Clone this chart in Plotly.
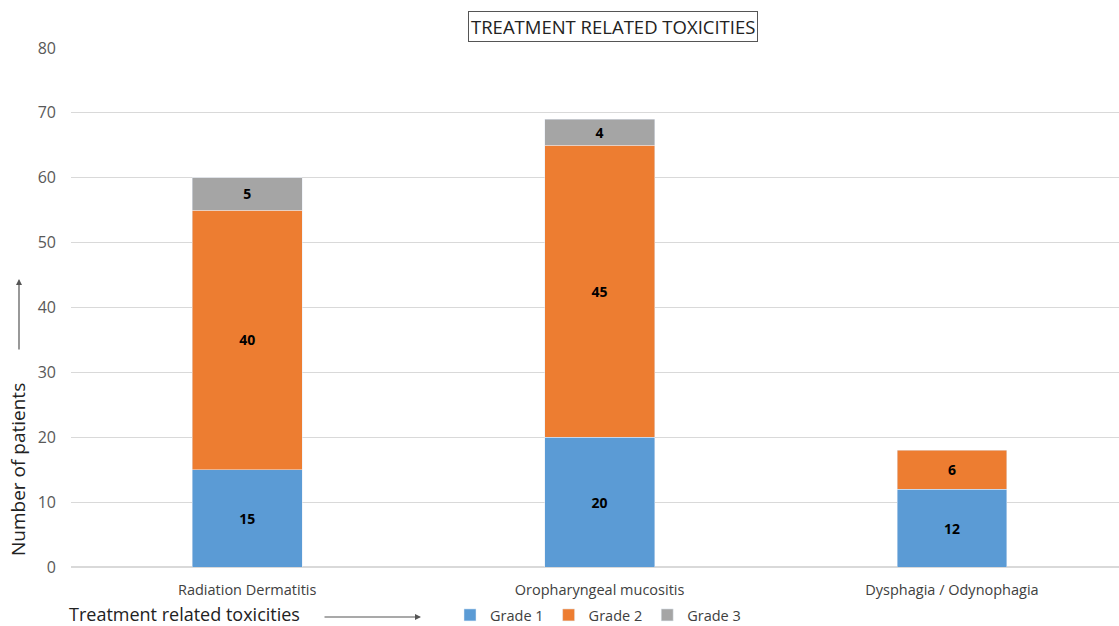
import plotly.graph_objects as go

categories = ["Radiation Dermatitis", "Oropharyngeal mucositis", "Dysphagia / Odynophagia"]
grade1 = [15, 20, 12]
grade2 = [40, 45, 6]
grade3 = [5, 4, None]
series_names = ["Grade 1", "Grade 2", "Grade 3"]
colors = ["#5B9BD5", "#ED7D31", "#A5A5A5"]

W, H = 1119, 626
ml, mr, mt, mb = 71, 0, 48, 59
pw, ph = W - ml - mr, H - mt - mb

def px_to_paper_x(px):
    return (px - ml) / pw

def px_to_paper_y(py):
    return (H - mb - py) / ph

fig = go.Figure()
for name, vals, col in zip(series_names, [grade1, grade2, grade3], colors):
    fig.add_trace(go.Bar(
        x=categories, y=vals, name=name, marker_color=col, width=0.312,
        text=[str(v) if v is not None else "" for v in vals],
        textposition="inside", insidetextanchor="middle",
        textfont=dict(family="Open Sans", size=14, color="black", weight="bold"),
        constraintext="none",
    ))

fig.update_layout(
    barmode="stack",
    width=W, height=H,
    margin=dict(l=ml, r=mr, t=mt, b=mb, autoexpand=False),
    plot_bgcolor="white", paper_bgcolor="white",
    font=dict(family="Open Sans", color="#404040"),
    showlegend=True,
    legend=dict(orientation="h", x=px_to_paper_x(598), xanchor="center", y=px_to_paper_y(615), yanchor="middle",
                font=dict(size=14.5, color="#404040"), traceorder="normal", itemwidth=30,
                tracegroupgap=0),
    xaxis=dict(range=[-0.5, 2.474], showgrid=False, showline=False, ticks="",
               tickfont=dict(size=14.5, color="#404040"), ticklabelstandoff=12),
    yaxis=dict(range=[0, 80], dtick=10, showgrid=True, gridcolor="#D9D9D9", gridwidth=1,
               zeroline=True, zerolinecolor="#D9D9D9", showline=False,
               tickfont=dict(size=16, color="#595959"), ticklabelstandoff=14),
    bargap=0.5,
)

# Title box
fig.add_annotation(
    text="TREATMENT RELATED TOXICITIES", xref="paper", yref="paper",
    x=px_to_paper_x(613), y=px_to_paper_y(26), xanchor="center", yanchor="middle",
    showarrow=False, font=dict(size=18.5, color="#222222"),
    bordercolor="#555555", borderwidth=1, borderpad=2, bgcolor="white",
)

# Y axis title
fig.add_annotation(
    text="Number of patients", xref="paper", yref="paper",
    x=px_to_paper_x(18), y=px_to_paper_y(470), xanchor="center", yanchor="middle",
    showarrow=False, textangle=-90, font=dict(size=19, color="#222222"),
)
# Y axis arrow
fig.add_annotation(
    text="", xref="paper", yref="paper",
    x=px_to_paper_x(19), y=px_to_paper_y(279), ax=0, ay=72,
    showarrow=True, arrowhead=2, arrowsize=1, arrowwidth=1.2, arrowcolor="#555555",
)

# X axis title
fig.add_annotation(
    text="Treatment related toxicities", xref="paper", yref="paper",
    x=px_to_paper_x(68), y=px_to_paper_y(614), xanchor="left", yanchor="middle",
    showarrow=False, font=dict(size=18, color="#222222"), borderpad=0,
)
fig.add_annotation(
    text="", xref="paper", yref="paper",
    x=px_to_paper_x(421), y=px_to_paper_y(617), ax=-98, ay=0,
    showarrow=True, arrowhead=2, arrowsize=1, arrowwidth=1.2, arrowcolor="#555555",
)

fig.write_html("out.html")
